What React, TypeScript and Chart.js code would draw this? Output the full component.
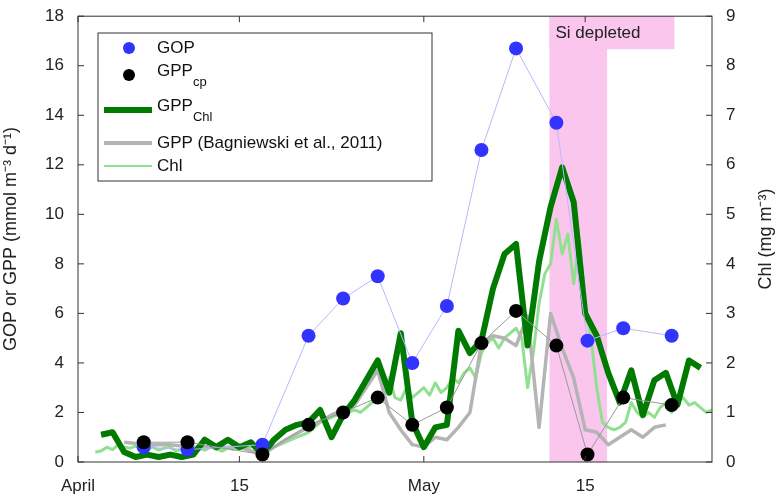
import React, { useEffect, useRef } from "react";
import { Chart, registerables } from "chart.js";
Chart.register(...registerables);

const xTickDays = [0, 14, 30, 44];
const xTickLabels = ["April", "15", "May", "15"];
const sampleDays = [5.7, 9.5, 16, 20, 23, 26, 29, 32, 35, 38, 41.5, 44.2, 47.3, 51.5];
const gopValues = [0.6, 0.5, 0.7, 5.1, 6.6, 7.5, 4.0, 6.3, 12.6, 16.7, 13.7, 4.9, 5.4, 5.1];
const gppCpValues = [0.8, 0.8, 0.3, 1.5, 2.0, 2.6, 1.5, 2.2, 4.8, 6.1, 4.7, 0.3, 2.6, 2.3];
const chlGppDays = [2, 3, 4, 5, 6, 7, 8, 9, 10, 11, 12, 13, 14, 15, 16, 17, 18, 19, 20, 21, 22, 23, 24, 25, 26, 27, 28, 29, 30, 31, 32, 33, 34, 35, 36, 37, 38, 39, 40, 41, 42, 43, 44, 45, 46, 47, 48, 49, 50, 51, 52, 53, 54];
const chlGppValues = [1.1, 1.2, 0.4, 0.2, 0.3, 0.2, 0.3, 0.2, 0.3, 0.9, 0.6, 0.9, 0.6, 0.8, 0.3, 0.9, 1.3, 1.5, 1.6, 2.1, 1.0, 1.9, 2.5, 3.3, 4.1, 2.8, 5.2, 1.6, 0.6, 1.4, 1.5, 5.3, 4.4, 4.9, 7.0, 8.4, 8.8, 4.7, 8.1, 10.3, 11.9, 10.5, 6.0, 5.1, 3.6, 2.4, 3.7, 1.9, 3.3, 3.6, 2.3, 4.1, 3.8];
const bagDays = [4, 6, 8, 10, 12, 14, 16, 18, 20, 22, 24, 26, 27, 28, 29, 30, 31, 32, 33, 34, 35, 36, 37, 38, 39, 40, 41, 42, 43, 44, 45, 46, 47, 48, 49, 50, 51];
const bagValues = [0.8, 0.7, 0.7, 0.6, 0.6, 0.6, 0.3, 0.9, 1.4, 1.9, 2.3, 3.7, 2.0, 1.3, 0.7, 0.6, 1.0, 0.9, 1.4, 2.0, 4.8, 5.1, 5.0, 4.7, 5.9, 1.4, 6.0, 4.6, 3.4, 1.3, 1.2, 0.7, 1.0, 1.3, 1.0, 1.4, 1.5];
const chlDays = [1.5, 2, 2.5, 3, 3.5, 4, 4.5, 5, 5.5, 6, 6.5, 7, 7.5, 8, 8.5, 9, 9.5, 10, 10.5, 11, 11.5, 12, 12.5, 13, 13.5, 14, 14.5, 15, 15.5, 16, 16.5, 17, 17.5, 18, 18.5, 19, 19.5, 20, 20.5, 21, 21.5, 22, 22.5, 23, 23.5, 24, 24.5, 25, 25.5, 26, 26.5, 27, 27.5, 28, 28.5, 29, 29.5, 30, 30.5, 31, 31.5, 32, 32.5, 33, 33.5, 34, 34.5, 35, 35.5, 36, 36.5, 37, 37.5, 38, 38.5, 39, 39.5, 40, 40.5, 41, 41.5, 42, 42.5, 43, 43.5, 44, 44.5, 45, 45.5, 46, 46.5, 47, 47.5, 48, 48.5, 49, 49.5, 50, 50.5, 51, 51.5, 52, 52.5, 53, 53.5, 54, 54.5, 55];
const chlValues = [0.2, 0.22, 0.3, 0.25, 0.35, 0.3, 0.28, 0.32, 0.3, 0.26, 0.3, 0.24, 0.28, 0.3, 0.22, 0.26, 0.3, 0.25, 0.28, 0.24, 0.3, 0.26, 0.22, 0.28, 0.25, 0.3, 0.28, 0.3, 0.34, 0.3, 0.32, 0.3, 0.35, 0.4, 0.45, 0.5, 0.55, 0.6, 0.7, 0.8, 0.85, 0.9, 0.95, 0.9, 1.0, 1.05, 1.0, 1.1, 1.2, 1.3, 1.25, 1.7, 1.3, 1.25, 1.5, 1.3, 1.4, 1.5, 1.35, 1.6, 1.4, 1.5, 1.7, 1.6, 1.8, 1.9, 1.7, 2.2, 2.4, 2.5, 2.3, 2.5, 2.6, 2.7, 2.5, 1.5, 2.2, 3.2, 3.8, 4.0, 4.9, 4.2, 4.6, 3.6, 4.5, 3.2, 2.5, 1.5, 0.8, 0.7, 0.65, 0.7, 0.8, 1.2, 1.0, 0.9, 1.0, 0.9, 1.1, 1.2, 1.0, 1.2, 1.3, 1.15, 1.2, 1.1, 1.0, 1.05, 0.9, 0.85];

const pts = (xs: number[], ys: number[]) => xs.map((x, i) => ({ x, y: ys[i] }));
const FONT = "'Liberation Sans', Arial, sans-serif";

export default function App() {
  const ref = useRef<HTMLCanvasElement>(null);
  useEffect(() => {
    document.body.style.margin = "0";
    const decor = {
      id: "decor",
      beforeDatasetsDraw(c: any) {
        const { ctx, chartArea: a, scales } = c;
        const x0 = scales.x.getPixelForValue(40.9), x1 = scales.x.getPixelForValue(45.9);
        ctx.save();
        ctx.fillStyle = "#fac6ee";
        ctx.fillRect(x0, a.top, x1 - x0, a.bottom - a.top);
        ctx.fillRect(x0, a.top, 125, 33);
        ctx.fillStyle = "#222";
        ctx.font = `17px ${FONT}`;
        ctx.textBaseline = "middle";
        ctx.fillText("Si depleted", x0 + 6, a.top + 17);
        ctx.restore();
      },
      afterDraw(c: any) {
        const { ctx, chartArea: a, scales } = c;
        ctx.save();
        ctx.strokeStyle = "#333";
        ctx.lineWidth = 1;
        ctx.strokeRect(a.left, a.top, a.right - a.left, a.bottom - a.top);
        ctx.beginPath();
        xTickDays.forEach((d) => {
          const x = scales.x.getPixelForValue(d);
          ctx.moveTo(x, a.bottom); ctx.lineTo(x, a.bottom - 6);
          ctx.moveTo(x, a.top); ctx.lineTo(x, a.top + 6);
        });
        for (let v = 0; v <= 18; v += 2) {
          const y = scales.y.getPixelForValue(v);
          ctx.moveTo(a.left, y); ctx.lineTo(a.left + 6, y);
        }
        for (let v = 0; v <= 9; v += 1) {
          const y = scales.y1.getPixelForValue(v);
          ctx.moveTo(a.right, y); ctx.lineTo(a.right - 6, y);
        }
        ctx.stroke();
        // right axis title (reads bottom to top)
        ctx.save();
        ctx.translate(766, (a.top + a.bottom) / 2);
        ctx.rotate(-Math.PI / 2);
        ctx.fillStyle = "#222";
        ctx.font = `18px ${FONT}`;
        ctx.textAlign = "center";
        ctx.textBaseline = "middle";
        ctx.fillText("Chl (mg m⁻³)", 0, 0);
        ctx.restore();
        // legend
        const lx = 98, ly = 33, lw = 334, lh = 148;
        ctx.fillStyle = "#fff";
        ctx.fillRect(lx, ly, lw, lh);
        ctx.strokeStyle = "#333";
        ctx.strokeRect(lx, ly, lw, lh);
        ctx.textBaseline = "middle";
        const tx = 157;
        const rows = [48, 75, 110, 143, 166];
        ctx.fillStyle = "#3333ff";
        ctx.beginPath(); ctx.arc(129, rows[0], 6, 0, Math.PI * 2); ctx.fill();
        ctx.fillStyle = "#000";
        ctx.beginPath(); ctx.arc(129, rows[1], 6, 0, Math.PI * 2); ctx.fill();
        const line = (y: number, col: string, w: number) => {
          ctx.strokeStyle = col; ctx.lineWidth = w;
          ctx.beginPath(); ctx.moveTo(104, y); ctx.lineTo(152, y); ctx.stroke();
        };
        line(rows[2], "#007a00", 6);
        line(rows[3], "#b4b4b4", 4);
        line(rows[4], "#90e090", 2);
        ctx.fillStyle = "#111";
        ctx.font = `17px ${FONT}`;
        ctx.fillText("GOP", tx, rows[0]);
        ctx.fillText("GPP", tx, rows[1] - 4);
        ctx.fillText("GPP", tx, rows[2] - 4);
        ctx.fillText("GPP (Bagniewski et al., 2011)", tx, rows[3]);
        ctx.fillText("Chl", tx, rows[4]);
        const w = ctx.measureText("GPP").width;
        ctx.font = `13px ${FONT}`;
        ctx.fillText("cp", tx + w, rows[1] + 7);
        ctx.fillText("Chl", tx + w, rows[2] + 7);
        ctx.restore();
      },
    };
    const chart = new Chart(ref.current!, {
      type: "line",
      data: {
        datasets: [
          { label: "GOP", data: pts(sampleDays, gopValues), borderColor: "#b8b8ff", borderWidth: 1, backgroundColor: "#3333ff", pointBackgroundColor: "#3333ff", pointBorderWidth: 0, pointRadius: 7, order: 1, yAxisID: "y" },
          { label: "GPPcp", data: pts(sampleDays, gppCpValues), borderColor: "#999", borderWidth: 1, pointBackgroundColor: "#000", pointBorderWidth: 0, pointRadius: 7, order: 0, yAxisID: "y" },
          { label: "GPPChl", data: pts(chlGppDays, chlGppValues), borderColor: "#007a00", borderWidth: 6, borderJoinStyle: "round", pointRadius: 0, order: 2, yAxisID: "y" },
          { label: "Bag", data: pts(bagDays, bagValues), borderColor: "#b4b4b4", borderWidth: 3.5, borderJoinStyle: "round", pointRadius: 0, order: 3, yAxisID: "y" },
          { label: "Chl", data: pts(chlDays, chlValues), borderColor: "#90e090", borderWidth: 3, borderJoinStyle: "round", pointRadius: 0, order: 4, yAxisID: "y1" },
        ],
      },
      options: {
        animation: false,
        responsive: false,
        layout: { padding: { top: 15, right: 0, left: 0, bottom: 0 } },
        plugins: { legend: { display: false }, tooltip: { enabled: false } },
        scales: {
          x: {
            type: "linear", min: 0, max: 55,
            grid: { display: false }, border: { display: false },
            afterBuildTicks: (s: any) => { s.ticks = xTickDays.map((v) => ({ value: v })); },
            afterFit: (s: any) => { s.height = 40; },
            ticks: { color: "#222", font: { size: 17, family: FONT }, padding: 6, maxRotation: 0, callback: (v: any) => xTickLabels[xTickDays.indexOf(v)] ?? "" },
          },
          y: {
            min: 0, max: 18, position: "left",
            grid: { display: false }, border: { display: false },
            afterFit: (s: any) => { s.width = 78; },
            ticks: { stepSize: 2, color: "#222", font: { size: 17, family: FONT }, padding: 6 },
            title: { display: true, text: "GOP or GPP (mmol m⁻³ d⁻¹)", color: "#222", font: { size: 18, family: FONT }, padding: 0 },
          },
          y1: {
            min: 0, max: 9, position: "right",
            grid: { display: false }, border: { display: false },
            afterFit: (s: any) => { s.width = 68; },
            ticks: { stepSize: 1, color: "#222", font: { size: 17, family: FONT }, padding: 6 },
          },
        },
      },
      plugins: [decor],
    } as any);
    return () => chart.destroy();
  }, []);
  return (
    <div style={{ width: 780, height: 502, background: "#fff" }}>
      <canvas ref={ref} width={780} height={502} />
    </div>
  );
}
